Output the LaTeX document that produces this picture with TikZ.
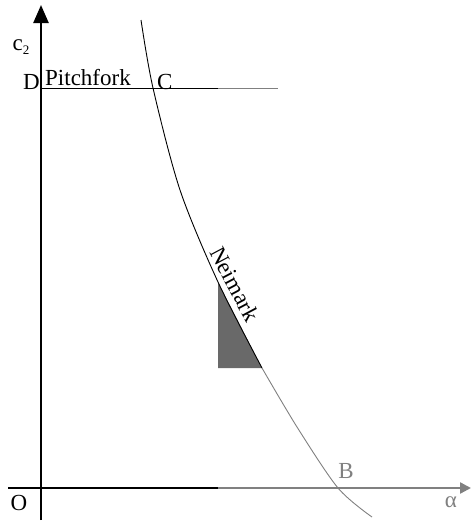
\documentclass[tikz,border=0pt]{standalone}
\usepackage{fontspec}
\setmainfont{Liberation Serif}
\usetikzlibrary{arrows.meta, positioning}
\definecolor{bifgray}{RGB}{128, 128, 128}
\definecolor{bifshade}{RGB}{105, 105, 105}

\begin{document}
\begin{tikzpicture}[
    x=1pt, y=-1pt,
    >=Stealth,
    axis/.style={line width=2.4pt},
    curve/.style={line width=0.9pt},
    lbl/.style={inner sep=0pt, font=\fontsize{23}{26}\selectfont}
]
\useasboundingbox (0, 0) rectangle (473, 525);

% === Puntos ===
\coordinate (O) at (41, 488);
\coordinate (ybot) at (41, 520);
\coordinate (ytop) at (41, 5);
\coordinate (xleft) at (8, 488);
\coordinate (xmid) at (218, 488);
\coordinate (xright) at (471, 488);
\coordinate (D) at (41, 88);
\coordinate (pmid) at (218, 88);
\coordinate (pend) at (278, 88);

% === Region sombreada ===
\fill[bifshade] (218, 282) -- (262, 368) -- (218, 368) -- cycle;

% === Curva Neimark ===
\draw[curve] plot[smooth] coordinates {(141, 20) (153, 88) (180, 190) (218, 282) (262, 368)};
\draw[curve, bifgray] plot[smooth] coordinates {(262, 368) (297, 427) (338, 488) (372, 517)};

% === Linea Pitchfork ===
\draw[line width=1pt] (D) -- (pmid);
\draw[line width=1pt, bifgray] (pmid) -- (pend);

% === Ejes ===
\draw[axis] (xleft) -- (xmid);
\draw[axis, bifgray, -{Triangle[length=11pt, width=11pt]}] (xmid) -- (xright);
\draw[axis, -{Triangle[length=18pt, width=15pt]}] (ybot) -- (ytop);

% === Etiquetas ===
\node[lbl] (c2) at (21, 47) {c\raisebox{-0.35ex}{\fontsize{13}{13}\selectfont 2}};
\node[lbl, anchor=south east] (Dlbl) at (40, 90) {D};
\node[lbl, anchor=south west] (pitch) at (45, 86) {Pitchfork};
\node[lbl, anchor=south west] (Clbl) at (157, 90) {C};
\node[lbl] (Olbl) at (19, 503) {O};
\node[lbl, bifgray] (Blbl) at (346, 471) {B};
\node[lbl, bifgray] (alpha) at (451, 502) {α};
\node[lbl, rotate=-62] (neimark) at (235, 284) {Neimark};

\end{tikzpicture}
\end{document}
